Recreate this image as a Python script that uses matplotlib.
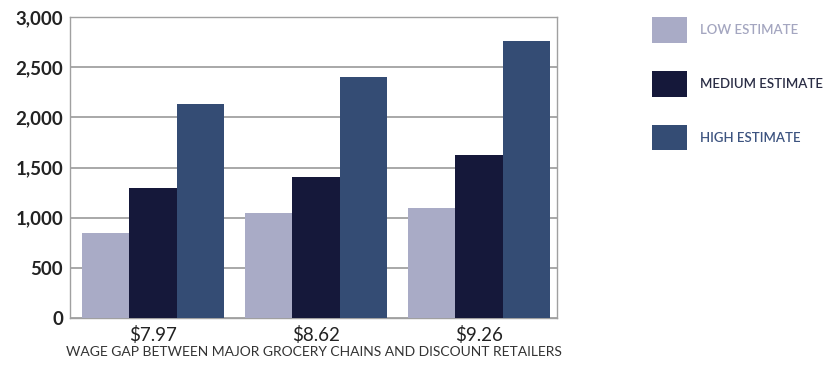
import numpy as np
import matplotlib
matplotlib.use("Agg")
from matplotlib import pyplot as plt

plt.rcParams['font.family'] = ['Lato', 'DejaVu Sans']

wage_gaps = ['$7.97', '$8.62', '$9.26']
low = [850, 1050, 1100]
medium = [1300, 1410, 1630]
high = [2130, 2400, 2760]
series_names = ['LOW ESTIMATE', 'MEDIUM ESTIMATE', 'HIGH ESTIMATE']

colors = ['#a9abc6', '#15183a', '#344c74']
text_colors = ['#a4a6c0', '#2a2d45', '#3d5480']

fig = plt.figure(figsize=(8.38, 3.72), dpi=100)
ax = fig.add_axes([0.0835, 0.145, 0.5815, 0.809])

x = np.arange(len(wage_gaps))
w = 0.29
bars = []
for i, (vals, c) in enumerate(zip([low, medium, high], colors)):
    b = ax.bar(x + (i - 1) * w, vals, w, color=c, zorder=3, label=series_names[i])
    bars.append(b)

ax.set_xlim(-0.51, 2.48)
ax.set_ylim(0, 3000)
ax.set_yticks(range(0, 3001, 500))
ax.set_yticklabels(['{:,}'.format(v) for v in range(0, 3001, 500)],
                   fontsize=13.5, fontweight='bold', color='#222222')
ax.set_xticks(x)
ax.set_xticklabels(wage_gaps, fontsize=13.5, color='#222222')
ax.tick_params(axis='both', length=0)
ax.tick_params(axis='y', pad=5)
ax.tick_params(axis='x', pad=6)
ax.yaxis.grid(True, color='#9a9a9a', linewidth=1.2, zorder=0)
for s in ax.spines.values():
    s.set_color('#a0a0a0')
    s.set_linewidth(1.0)

ax.set_xlabel('WAGE GAP BETWEEN MAJOR GROCERY CHAINS AND DISCOUNT RETAILERS',
              fontsize=10, color='#333333', labelpad=1)

leg = fig.legend(handles=bars, loc='upper left', bbox_to_anchor=(0.778, 0.954),
                 frameon=False, prop={'size': 9.5, 'weight': 'semibold'},
                 handlelength=2.65, handleheight=2.6,
                 labelspacing=2.15, handletextpad=1.0, borderpad=0,
                 borderaxespad=0)
for t, c in zip(leg.get_texts(), text_colors):
    t.set_color(c)

fig.savefig('out.png', dpi=100)
